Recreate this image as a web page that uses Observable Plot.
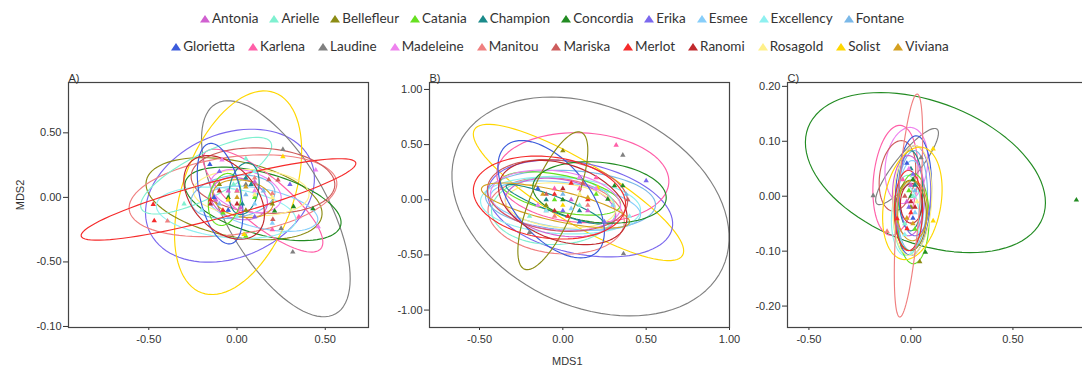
<!DOCTYPE html>
<html><head><meta charset="utf-8">
<script src="https://cdn.jsdelivr.net/npm/d3@7"></script>
<script src="https://cdn.jsdelivr.net/npm/@observablehq/plot@0.6"></script>
<style>
body{margin:0;background:#fff;overflow:hidden;}
#root{position:relative;width:1082px;height:374px;overflow:hidden;font-family:"Liberation Sans",Arial,sans-serif;color:#333;}
.panel{position:absolute;top:60px;}
.panel svg{max-width:none !important;}
.legend{position:absolute;left:0;width:1082px;display:flex;justify-content:center;font-family:Lato,"Open Sans",sans-serif;font-size:13.5px;color:#333;box-sizing:border-box;}
.legend .item{display:inline-flex;align-items:center;gap:2px;}
.lab{position:absolute;font-size:11px;color:#333;}
</style></head><body><div id="root"></div>
<script>
const cultivars = ["Antonia","Arielle","Bellefleur","Catania","Champion","Concordia","Erika","Esmee","Excellency","Fontane","Glorietta","Karlena","Laudine","Madeleine","Manitou","Mariska","Merlot","Ranomi","Rosagold","Solist","Viviana"];
const palette = ["#d060d0","#7ff0d0","#8c8c14","#66e020","#1a8a8a","#228b22","#7b68ee","#87cefa","#8ef0f0","#7ab8e8","#3b5bdb","#ff5fa8","#808080","#ee82ee","#f08080","#cd5c5c","#f52a2a","#c0282c","#fff08a","#ffd700","#d4a020"];
const legendRow1 = cultivars.slice(0, 10);
const legendRow2 = cultivars.slice(10);

// ellipses: [cultivar, centerX, centerY, majorVecX, majorVecY, minor/major ratio]
const ellipsesA = [
  ["Erika",-0.04,0.013,0.458,0.271,0.70],
  ["Laudine",0.22,-0.088,0.339,-0.814,0.42],
  ["Solist",0.006,0.036,0.207,0.775,0.52],
  ["Bellefleur",-0.017,-0.01,0.497,-0.14,0.42],
  ["Concordia",0.147,-0.05,0.44,-0.17,0.38],
  ["Karlena",0.147,-0.025,0.328,-0.372,0.32],
  ["Manitou",-0.023,0.013,0.588,0.109,0.37],
  ["Arielle",-0.175,0.168,0.367,0.256,0.3],
  ["Excellency",-0.062,-0.119,0.395,-0.062,0.35],
  ["Esmee",0.147,-0.088,0.31,-0.093,0.35],
  ["Mariska",0.147,0.13,0.407,-0.039,0.45],
  ["Rosagold",0.08,0.036,0.328,-0.016,0.4],
  ["Fontane",-0.023,0.005,0.237,0.047,0.5],
  ["Madeleine",0.05,0.05,0.198,-0.078,0.55],
  ["Antonia",0.011,-0.01,0.158,-0.062,0.7],
  ["Viviana",0.034,-0.01,0.17,-0.047,0.6],
  ["Catania",-0.07,-0.016,0.03,0.2,0.6],
  ["Champion",0.04,0.068,0.028,0.2,0.55],
  ["Glorietta",-0.096,0.029,-0.062,0.388,0.4],
  ["Ranomi",-0.073,0.0,0.186,-0.279,0.65],
  ["Merlot",-0.105,-0.016,0.778,0.284,0.13]
];
const ellipsesB = [
  ["Laudine",0.166,-0.061,0.792,-0.559,0.685],
  ["Solist",0.094,0.066,0.624,-0.571,0.25],
  ["Erika",0.104,-0.079,0.552,-0.181,0.48],
  ["Karlena",0.12,0.2,0.516,-0.045,0.52],
  ["Manitou",-0.04,-0.145,0.408,-0.073,0.55],
  ["Arielle",-0.056,-0.097,0.372,0.0,0.55],
  ["Excellency",-0.014,-0.052,0.48,-0.045,0.35],
  ["Fontane",0.046,-0.006,0.51,-0.045,0.35],
  ["Esmee",0.016,-0.052,0.45,-0.09,0.3],
  ["Catania",-0.014,0.057,0.36,-0.109,0.3],
  ["Madeleine",-0.044,-0.006,0.39,-0.073,0.45],
  ["Antonia",-0.014,-0.07,0.33,-0.09,0.5],
  ["Mariska",-0.032,0.039,0.42,-0.073,0.5],
  ["Rosagold",-0.014,-0.052,0.33,-0.045,0.4],
  ["Viviana",-0.044,-0.052,0.444,-0.154,0.2],
  ["Glorietta",-0.07,0.005,0.27,-0.486,0.53],
  ["Concordia",0.22,0.066,0.40,-0.06,0.45],
  ["Champion",-0.05,-0.04,0.29,-0.166,0.15],
  ["Bellefleur",-0.06,-0.009,0.17,0.62,0.3],
  ["Merlot",-0.08,0.02,0.456,-0.09,0.53],
  ["Ranomi",0.0,-0.025,0.378,-0.2,0.57]
];
const ellipsesC = [
  ["Concordia",0.071,0.043,0.575,-0.082,0.564],
  ["Laudine",-0.019,0.054,0.147,0.068,0.25],
  ["Karlena",-0.076,0.029,0.025,0.1,0.4],
  ["Madeleine",-0.022,0.056,0.025,0.069,0.55],
  ["Mariska",-0.066,0.037,0.025,0.064,0.5],
  ["Arielle",-0.017,-0.035,0.0,0.073,0.35],
  ["Excellency",-0.027,-0.044,0.0,0.064,0.4],
  ["Esmee",-0.002,-0.017,0.01,0.082,0.3],
  ["Fontane",0.007,-0.008,0.01,0.091,0.3],
  ["Catania",0.012,-0.041,0.0,0.082,0.35],
  ["Champion",-0.002,0.01,0.0,0.073,0.3],
  ["Antonia",-0.012,0.001,0.0,0.073,0.4],
  ["Glorietta",0.012,0.001,0.015,0.109,0.3],
  ["Erika",0.02,0.01,0.0,0.082,0.35],
  ["Bellefleur",-0.002,-0.035,0.0,0.064,0.45],
  ["Viviana",0.007,-0.026,0.0,0.055,0.5],
  ["Merlot",-0.012,-0.026,0.0,0.073,0.35],
  ["Rosagold",0.007,-0.008,0.015,0.1,0.35],
  ["Solist",0.007,-0.013,0.049,0.102,0.5],
  ["Ranomi",0.002,-0.013,0.0,0.036,0.55],
  ["Manitou",-0.012,-0.017,0.043,0.203,0.1]
];

// points: [cultivar, MDS1, MDS2]
const pointsA = [
  ["Antonia",-0.05,0.05],["Antonia",0.02,-0.08],["Antonia",0.1,0.12],["Antonia",-0.12,-0.02],
  ["Arielle",-0.3,-0.05],["Arielle",0.05,0.3],["Arielle",-0.02,0.1],
  ["Bellefleur",-0.1,0.1],["Bellefleur",0.2,-0.05],["Bellefleur",0.05,-0.1],
  ["Catania",0.0,0.05],["Catania",-0.08,-0.12],["Catania",0.05,-0.3],["Catania",0.1,0.0],
  ["Champion",0.05,0.15],["Champion",0.03,-0.05],["Champion",0.08,0.1],
  ["Concordia",0.213,-0.106],["Concordia",0.32,-0.072],["Concordia",0.43,-0.088],["Concordia",-0.05,0.0],
  ["Erika",-0.1,0.2],["Erika",0.1,-0.15],["Erika",0.3,0.1],
  ["Esmee",0.1,-0.05],["Esmee",0.2,-0.2],["Esmee",-0.05,-0.1],
  ["Excellency",-0.2,-0.1],["Excellency",0.1,0.2],["Excellency",0.0,-0.15],
  ["Fontane",0.05,0.02],["Fontane",0.15,0.05],["Fontane",-0.1,-0.05],
  ["Glorietta",-0.154,0.256],["Glorietta",-0.05,-0.1],["Glorietta",-0.13,0.0],
  ["Karlena",0.35,-0.15],["Karlena",0.0,0.05],["Karlena",0.2,-0.25],
  ["Laudine",0.26,0.372],["Laudine",0.316,-0.423],["Laudine",0.25,-0.24],["Laudine",0.05,0.1],
  ["Madeleine",0.446,0.212],["Madeleine",-0.085,0.29],["Madeleine",0.46,-0.227],["Madeleine",0.1,0.05],
  ["Manitou",-0.394,-0.183],["Manitou",0.1,0.15],["Manitou",0.2,0.03],
  ["Mariska",0.18,0.137],["Mariska",0.232,0.135],["Mariska",0.203,-0.17],
  ["Merlot",-0.475,-0.054],["Merlot",-0.469,-0.181],["Merlot",-0.15,-0.02],["Merlot",-0.08,-0.1],
  ["Ranomi",-0.1,0.05],["Ranomi",0.0,-0.05],["Ranomi",-0.15,-0.05],
  ["Rosagold",0.1,0.02],["Rosagold",0.2,0.0],
  ["Solist",0.26,0.315],["Solist",0.04,-0.287],["Solist",-0.05,-0.02],
  ["Viviana",0.0,0.0],["Viviana",0.05,0.08]
];
const pointsB = [
  ["Karlena",0.32,0.495],["Karlena",0.1,0.1],["Karlena",-0.05,0.1],["Karlena",0.2,0.2],
  ["Laudine",0.36,0.405],["Laudine",0.364,-0.49],["Laudine",-0.2,-0.296],["Laudine",0.1,0.2],
  ["Bellefleur",0.0,0.444],["Bellefleur",-0.1,-0.05],
  ["Erika",0.5,0.172],["Erika",0.0,-0.1],["Erika",0.25,-0.2],
  ["Concordia",0.31,0.127],["Concordia",0.36,0.127],["Concordia",0.27,0.005],["Concordia",0.0,0.0],
  ["Mariska",0.39,0.0],["Mariska",-0.1,0.05],["Mariska",0.12,0.15],
  ["Solist",0.21,0.11],["Solist",0.0,-0.05],
  ["Merlot",0.05,0.15],["Merlot",-0.05,0.05],["Merlot",0.15,0.0],["Merlot",0.03,-0.15],
  ["Madeleine",-0.15,-0.05],["Madeleine",0.1,0.2],["Madeleine",0.2,0.1],
  ["Antonia",-0.1,-0.1],["Antonia",0.05,0.0],["Antonia",0.15,-0.1],
  ["Arielle",-0.2,-0.15],["Arielle",0.1,-0.05],
  ["Catania",-0.05,0.0],["Catania",0.2,0.05],
  ["Champion",-0.1,0.0],["Champion",0.1,-0.1],
  ["Esmee",0.3,-0.05],["Esmee",0.05,-0.08],
  ["Excellency",-0.1,-0.1],["Excellency",0.4,-0.15],
  ["Fontane",0.38,0.05],["Fontane",0.0,0.05],
  ["Glorietta",-0.15,0.1],["Glorietta",0.1,-0.2],
  ["Manitou",-0.05,-0.15],["Manitou",0.15,-0.05],
  ["Ranomi",0.0,0.1],["Ranomi",-0.05,-0.1],
  ["Rosagold",0.1,0.05],["Viviana",0.15,0.02],["Viviana",-0.12,0.05]
];
const pointsC = [
  ["Concordia",0.811,-0.007],["Concordia",0.071,-0.102],["Concordia",0.0,0.0],["Concordia",0.01,0.03],
  ["Bellefleur",0.043,-0.119],["Bellefleur",0.0,-0.02],
  ["Laudine",-0.185,0.001],["Laudine",0.05,0.07],
  ["Solist",0.109,0.086],["Solist",0.109,-0.045],
  ["Manitou",-0.117,-0.064],["Manitou",0.0,0.02],
  ["Merlot",-0.019,-0.059],["Merlot",-0.068,-0.041],["Merlot",0.0,-0.03],
  ["Antonia",0.0,0.02],["Antonia",-0.02,-0.01],
  ["Arielle",-0.03,-0.05],["Arielle",0.01,0.0],
  ["Catania",0.02,-0.06],["Catania",-0.01,0.01],
  ["Champion",0.0,0.05],["Champion",0.02,0.02],
  ["Erika",0.01,0.04],["Erika",-0.01,-0.02],
  ["Esmee",0.02,-0.03],["Excellency",-0.03,-0.07],["Fontane",0.02,0.01],
  ["Glorietta",0.01,-0.04],["Glorietta",-0.02,0.06],
  ["Karlena",-0.04,0.03],["Madeleine",-0.01,0.05],["Mariska",-0.03,0.0],
  ["Ranomi",0.0,-0.01],["Ranomi",0.02,-0.02],
  ["Rosagold",0.03,-0.01],["Viviana",0.01,-0.05],["Viviana",-0.02,-0.04]
];

// axis ticks and their labels
const aXTicks = [-0.5, 0, 0.5], aXTickLabels = ["-0.50","0.00","0.50"];
const aYTicks = [-1, -0.5, 0, 0.5], aYTickLabels = ["-0.10","-0.50","0.00","0.50"];
const bXTicks = [-0.5, 0, 0.5, 1], bXTickLabels = ["-0.50","0.00","0.50","1.00"];
const bYTicks = [-1, -0.5, 0, 0.5, 1], bYTickLabels = ["-1.00","-0.50","0.00","0.50","1.00"];
const cXTicks = [-0.5, 0, 0.5], cXTickLabels = ["-0.50","0.00","0.50"];
const cYTicks = [-0.2, -0.1, 0, 0.1, 0.2], cYTickLabels = ["-0.20","-0.10","0.00","0.10","0.20"];

const root = document.getElementById("root");

// legend
function legendRow(names, top, shift, gap) {
  const row = document.createElement("div");
  row.className = "legend";
  row.style.top = top + "px";
  row.style.paddingLeft = shift + "px";
  row.style.gap = gap + "px";
  for (const n of names) {
    const it = document.createElement("span");
    it.className = "item";
    const col = palette[cultivars.indexOf(n)];
    it.innerHTML = `<svg width="10" height="9"><polygon points="0,8.5 5,1 10,8.5" fill="${col}"/></svg><span>${n}</span>`;
    row.appendChild(it);
  }
  root.appendChild(row);
}
legendRow(legendRow1, 10, 22, 11);
legendRow(legendRow2, 38, 38, 13);

function ellipseLines(list, kx, ky) {
  const out = [];
  const n = 90;
  for (const [name, cx, cy, vx, vy, w] of list) {
    const px = -vy * ky * w / kx, py = vx * kx * w / ky;
    for (let i = 0; i <= n; i++) {
      const t = 2 * Math.PI * i / n;
      out.push({name, x: cx + vx * Math.cos(t) + px * Math.sin(t), y: cy + vy * Math.cos(t) + py * Math.sin(t)});
    }
  }
  return out;
}

function panel(opt) {
  const plotW = opt.width - opt.marginLeft - opt.marginRight;
  const plotH = opt.height - opt.marginTop - opt.marginBottom;
  const kx = plotW / (opt.xDomain[1] - opt.xDomain[0]);
  const ky = plotH / (opt.yDomain[1] - opt.yDomain[0]);
  const lines = ellipseLines(opt.ellipses, kx, ky);
  const pts = opt.points.map(([name, x, y]) => ({name, x, y}));
  const chart = Plot.plot({
    width: opt.width, height: opt.height,
    marginLeft: opt.marginLeft, marginRight: opt.marginRight,
    marginTop: opt.marginTop, marginBottom: opt.marginBottom,
    style: {fontFamily: '"Liberation Sans", Arial, sans-serif', fontSize: "11px", color: "#333", background: "transparent", overflow: "visible", maxWidth: "none"},
    x: {domain: opt.xDomain, ticks: opt.xTicks, tickFormat: d => opt.xLabels[opt.xTicks.indexOf(d)], tickSize: 3, tickPadding: 5, label: null},
    y: {domain: opt.yDomain, ticks: opt.yTicks, tickFormat: d => opt.yLabels[opt.yTicks.indexOf(d)], tickSize: 5, tickPadding: 2, label: null},
    color: {domain: cultivars, range: palette},
    marks: [
      Plot.line(lines, {x: "x", y: "y", z: "name", stroke: "name", strokeWidth: 1.15, clip: true}),
      Plot.dot(pts, {x: "x", y: "y", fill: "name", symbol: "triangle", r: 2.0, clip: true}),
      Plot.frame({stroke: "#444", strokeWidth: 1.2}),
      Plot.text([opt.title], {frameAnchor: "top-left", dy: -8, textAnchor: "start", fontSize: 11, fill: "#333"})
    ]
  });
  const wrap = document.createElement("div");
  wrap.className = "panel";
  wrap.style.left = opt.left + "px";
  wrap.style.width = opt.width + "px";
  wrap.appendChild(chart);
  root.appendChild(wrap);
}

panel({title: "A)", left: 0, width: 370, height: 302, marginLeft: 68, marginRight: 2, marginTop: 22, marginBottom: 35,
  xDomain: [-0.955, 0.745], yDomain: [-1.008, 0.89], xTicks: aXTicks, xLabels: aXTickLabels, yTicks: aYTicks, yLabels: aYTickLabels,
  ellipses: ellipsesA, points: pointsA});
panel({title: "B)", left: 370, width: 361, height: 302, marginLeft: 59, marginRight: 2, marginTop: 22, marginBottom: 35,
  xDomain: [-0.80, 1.0], yDomain: [-1.158, 1.063], xTicks: bXTicks, xLabels: bXTickLabels, yTicks: bYTicks, yLabels: bYTickLabels,
  ellipses: ellipsesB, points: pointsB});
panel({title: "C)", left: 731, width: 361, height: 302, marginLeft: 56, marginRight: 0, marginTop: 22, marginBottom: 35,
  xDomain: [-0.605, 0.89], yDomain: [-0.239, 0.207], xTicks: cXTicks, xLabels: cXTickLabels, yTicks: cYTicks, yLabels: cYTickLabels,
  ellipses: ellipsesC, points: pointsC});

const ylab = document.createElement("div");
ylab.className = "lab";
ylab.textContent = "MDS2";
ylab.style.left = "5px"; ylab.style.top = "189px"; ylab.style.transform = "rotate(-90deg)";
root.appendChild(ylab);
const xlab = document.createElement("div");
xlab.className = "lab";
xlab.textContent = "MDS1";
xlab.style.left = "552px"; xlab.style.top = "355px";
root.appendChild(xlab);
</script>
</body></html>
